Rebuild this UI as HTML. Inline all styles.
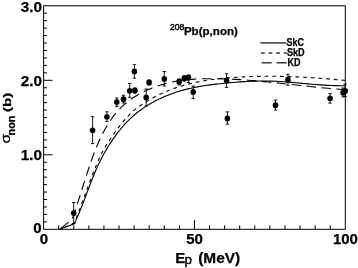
<!DOCTYPE html>
<html><head><meta charset="utf-8"><title>208Pb(p,non)</title>
<style>
html,body{margin:0;padding:0;background:#fff;}
svg{display:block;filter:blur(0.3px);}
text.tk{stroke:#000;stroke-width:0.25px;}
text{font-family:"Liberation Sans",sans-serif;font-weight:bold;fill:#000;}
</style></head><body>
<svg width="358" height="268" viewBox="0 0 358 268">
<rect x="0" y="0" width="358" height="268" fill="#fff"/>

<rect x="43.6" y="5.8" width="301.7" height="223.5" fill="none" stroke="#000" stroke-width="1"/>
<path d="M43.6,221.85h3.4 M43.6,214.40h3.4 M43.6,206.95h3.4 M43.6,199.50h3.4 M43.6,192.05h3.4 M43.6,184.60h3.4 M43.6,177.15h3.4 M43.6,169.70h3.4 M43.6,162.25h3.4 M43.6,154.80h9.0 M43.6,147.35h3.4 M43.6,139.90h3.4 M43.6,132.45h3.4 M43.6,125.00h3.4 M43.6,117.55h3.4 M43.6,110.10h3.4 M43.6,102.65h3.4 M43.6,95.20h3.4 M43.6,87.75h3.4 M43.6,80.30h9.0 M43.6,72.85h3.4 M43.6,65.40h3.4 M43.6,57.95h3.4 M43.6,50.50h3.4 M43.6,43.05h3.4 M43.6,35.60h3.4 M43.6,28.15h3.4 M43.6,20.70h3.4 M43.6,13.25h3.4 M58.69,229.3v-4.0 M73.77,229.3v-4.0 M88.86,229.3v-4.0 M103.94,229.3v-4.0 M119.03,229.3v-4.0 M134.11,229.3v-4.0 M149.19,229.3v-4.0 M164.28,229.3v-4.0 M179.36,229.3v-4.0 M194.45,229.3v-9.2 M209.53,229.3v-4.0 M224.62,229.3v-4.0 M239.70,229.3v-4.0 M254.79,229.3v-4.0 M269.88,229.3v-4.0 M284.96,229.3v-4.0 M300.05,229.3v-4.0 M315.13,229.3v-4.0 M330.22,229.3v-4.0" stroke="#000" stroke-width="1" fill="none"/>
<path d="M59.6,229.3L74.3,223.80 75.8,220.64 77.3,217.29 78.8,213.77 80.3,210.11 81.8,206.33 83.3,202.47 84.8,198.54 86.3,194.58 87.8,190.61 89.3,186.66 90.8,182.75 92.3,178.92 93.8,175.19 95.3,171.58 96.8,168.12 98.3,164.82 99.8,161.67 101.3,158.66 102.8,155.79 104.3,153.05 105.8,150.42 107.3,147.90 108.8,145.48 110.3,143.15 111.8,140.91 113.3,138.74 114.8,136.63 116.3,134.60 117.8,132.63 119.3,130.73 120.8,128.89 122.3,127.11 123.8,125.40 125.3,123.74 126.8,122.15 128.3,120.61 129.8,119.13 131.3,117.70 132.8,116.33 134.3,115.01 135.8,113.74 137.3,112.52 138.8,111.35 140.0,110.44 144.0,107.61 148.0,105.06 152.0,102.73 156.0,100.59 160.0,98.63 164.0,96.82 168.0,95.17 172.0,93.66 176.0,92.28 180.0,91.03 184.0,89.90 188.0,88.88 192.0,87.96 196.0,87.14 200.0,86.40 204.0,85.74 208.0,85.14 212.0,84.61 216.0,84.12 220.0,83.68 224.0,83.28 228.0,82.90 232.0,82.54 236.0,82.22 240.0,81.92 244.0,81.65 248.0,81.43 252.0,81.25 256.0,81.12 260.0,81.04 264.0,81.01 268.0,81.05 272.0,81.15 276.0,81.31 280.0,81.52 284.0,81.78 288.0,82.08 292.0,82.41 296.0,82.76 300.0,83.13 304.0,83.50 308.0,83.86 312.0,84.22 316.0,84.56 320.0,84.87 324.0,85.14 328.0,85.37 332.0,85.55 336.0,85.67 340.0,85.72 344.0,85.70 345.0,85.68" fill="none" stroke="#000" stroke-width="1.1"/>
<path d="M59.6,229.3L74.0,223.29 75.5,219.75 77.0,216.08 78.5,212.28 80.0,208.38 81.5,204.41 83.0,200.37 84.5,196.30 86.0,192.21 87.5,188.12 89.0,184.05 90.5,180.03 92.0,176.07 93.5,172.19 95.0,168.41 96.5,164.76 98.0,161.24 99.5,157.88 101.0,154.70 102.5,151.71 104.0,148.92 105.5,146.35 107.0,143.95 108.5,141.67 110.0,139.46 111.5,137.27 113.0,135.12 114.5,133.00 116.0,130.91 117.5,128.87 119.0,126.87 120.5,124.92 122.0,123.04 123.5,121.21 125.0,119.45 126.5,117.75 128.0,116.14 129.5,114.60 131.0,113.14 132.5,111.76 134.0,110.44 135.5,109.19 137.0,107.99 138.5,106.85 140.0,105.76 144.0,103.07 148.0,100.62 152.0,98.35 156.0,96.23 160.0,94.26 164.0,92.43 168.0,90.75 172.0,89.19 176.0,87.76 180.0,86.45 184.0,85.25 188.0,84.17 192.0,83.18 196.0,82.29 200.0,81.49 204.0,80.77 208.0,80.12 212.0,79.55 216.0,79.05 220.0,78.60 224.0,78.21 228.0,77.86 232.0,77.56 236.0,77.29 240.0,77.05 244.0,76.85 248.0,76.68 252.0,76.54 256.0,76.43 260.0,76.35 264.0,76.30 268.0,76.28 272.0,76.29 276.0,76.32 280.0,76.39 284.0,76.47 288.0,76.58 292.0,76.72 296.0,76.88 300.0,77.06 304.0,77.26 308.0,77.49 312.0,77.73 316.0,77.99 320.0,78.27 324.0,78.58 328.0,78.89 332.0,79.23 336.0,79.58 340.0,79.94 344.0,80.32 345.0,80.41" fill="none" stroke="#000" stroke-width="1.1" stroke-dasharray="3.7 4" stroke-dashoffset="2.3"/>
<path d="M59.6,229.3L72.0,219.52 73.5,215.34 75.0,211.00 76.5,206.52 78.0,201.93 79.5,197.25 81.0,192.52 82.5,187.76 84.0,183.00 85.5,178.27 87.0,173.60 88.5,169.02 90.0,164.54 91.5,160.21 93.0,156.06 94.5,152.08 96.0,148.28 97.5,144.67 99.0,141.23 100.5,137.97 102.0,134.88 103.5,131.95 105.0,129.18 106.5,126.56 108.0,124.09 109.5,121.74 111.0,119.52 112.5,117.42 114.0,115.44 115.5,113.56 117.0,111.79 118.5,110.11 120.0,108.52 121.5,107.02 123.0,105.61 124.5,104.27 126.0,103.00 127.5,101.79 129.0,100.65 130.5,99.56 132.0,98.52 133.5,97.53 135.0,96.57 136.5,95.66 138.0,94.77 139.5,93.93 140.0,93.65 144.0,91.57 148.0,89.70 152.0,88.02 156.0,86.52 160.0,85.18 164.0,84.00 168.0,82.96 172.0,82.07 176.0,81.30 180.0,80.65 184.0,80.11 188.0,79.67 192.0,79.33 196.0,79.07 200.0,78.88 204.0,78.76 208.0,78.70 212.0,78.69 216.0,78.71 220.0,78.78 224.0,78.89 228.0,79.04 232.0,79.21 236.0,79.42 240.0,79.66 244.0,79.93 248.0,80.23 252.0,80.55 256.0,80.88 260.0,81.24 264.0,81.62 268.0,82.01 272.0,82.42 276.0,82.83 280.0,83.26 284.0,83.69 288.0,84.13 292.0,84.57 296.0,85.01 300.0,85.45 304.0,85.89 308.0,86.32 312.0,86.74 316.0,87.16 320.0,87.56 324.0,87.95 328.0,88.32 332.0,88.67 336.0,89.01 340.0,89.32 344.0,89.61 345.0,89.67" fill="none" stroke="#000" stroke-width="1.1" stroke-dasharray="9.5 5.5" stroke-dashoffset="13"/>
<path d="M73.7,202.5V223.5M72.0,202.5h3.4M72.0,223.5h3.4 M92.6,116.7V143.6M90.9,116.7h3.4M90.9,143.6h3.4 M106.9,111.8V121.4M105.2,111.8h3.4M105.2,121.4h3.4 M116.8,98.0V106.4M115.1,98.0h3.4M115.1,106.4h3.4 M123.5,95.3V103.0M121.8,95.3h3.4M121.8,103.0h3.4 M129.7,83.5V97.3M128.0,83.5h3.4M128.0,97.3h3.4 M134.4,64.7V78.2M132.7,64.7h3.4M132.7,78.2h3.4 M146.2,89.0V106.0M144.5,89.0h3.4M144.5,106.0h3.4 M164.3,71.5V86.0M162.6,71.5h3.4M162.6,86.0h3.4 M179.2,80.0V84.9M177.5,80.0h3.4M177.5,84.9h3.4 M188.4,77.0V82.5M186.7,77.0h3.4M186.7,82.5h3.4 M193.2,86.0V98.6M191.5,86.0h3.4M191.5,98.6h3.4 M226.6,73.8V87.4M224.9,73.8h3.4M224.9,87.4h3.4 M227.4,111.9V124.2M225.7,111.9h3.4M225.7,124.2h3.4 M275.5,100.0V110.1M273.8,100.0h3.4M273.8,110.1h3.4 M287.9,74.3V85.2M286.2,74.3h3.4M286.2,85.2h3.4 M330.1,93.6V103.2M328.4,93.6h3.4M328.4,103.2h3.4 M343.1,88.0V96.9M341.4,88.0h3.4M341.4,96.9h3.4 M345.2,84.2V96.5M343.5,84.2h3.4M343.5,96.5h3.4" stroke="#000" stroke-width="0.9" fill="none"/>
<ellipse cx="73.7" cy="213.1" rx="2.8" ry="2.9" fill="#000"/>
<ellipse cx="92.6" cy="130.3" rx="2.8" ry="2.9" fill="#000"/>
<ellipse cx="106.9" cy="116.8" rx="2.8" ry="2.9" fill="#000"/>
<ellipse cx="116.8" cy="102.1" rx="2.8" ry="2.9" fill="#000"/>
<ellipse cx="123.5" cy="99.2" rx="2.8" ry="2.9" fill="#000"/>
<ellipse cx="129.7" cy="90.8" rx="2.8" ry="2.9" fill="#000"/>
<ellipse cx="134.9" cy="90.6" rx="2.8" ry="3.3" fill="#000"/>
<ellipse cx="134.4" cy="71.4" rx="2.8" ry="2.9" fill="#000"/>
<ellipse cx="146.2" cy="97.5" rx="2.8" ry="2.9" fill="#000"/>
<ellipse cx="149.1" cy="82.5" rx="2.8" ry="3.3" fill="#000"/>
<ellipse cx="164.3" cy="78.9" rx="2.8" ry="2.9" fill="#000"/>
<ellipse cx="179.2" cy="81.6" rx="2.8" ry="3.3" fill="#000"/>
<ellipse cx="184.3" cy="78.4" rx="2.8" ry="3.3" fill="#000"/>
<ellipse cx="188.4" cy="77.5" rx="2.8" ry="3.3" fill="#000"/>
<ellipse cx="193.2" cy="92.0" rx="2.8" ry="2.9" fill="#000"/>
<ellipse cx="226.6" cy="80.5" rx="2.8" ry="2.9" fill="#000"/>
<ellipse cx="227.4" cy="118.4" rx="2.8" ry="2.9" fill="#000"/>
<ellipse cx="275.5" cy="105.2" rx="2.8" ry="2.9" fill="#000"/>
<ellipse cx="287.9" cy="79.7" rx="2.8" ry="2.9" fill="#000"/>
<ellipse cx="330.1" cy="98.3" rx="2.8" ry="2.9" fill="#000"/>
<ellipse cx="343.1" cy="92.7" rx="2.8" ry="2.9" fill="#000"/>
<ellipse cx="345.2" cy="90.9" rx="2.8" ry="2.9" fill="#000"/>
<path d="M260.3,42.9H286.6" stroke="#3a3a3a" stroke-width="1.5" fill="none"/>
<path d="M261,52.9H287.4" stroke="#3a3a3a" stroke-width="1.5" stroke-dasharray="3.8 3.8" fill="none"/>
<path d="M261.6,62.8h10.1M276.7,62.8h10.1" stroke="#3a3a3a" stroke-width="1.5" fill="none"/>
<text class="tk" x="286.6" y="46.0" font-size="10.5" textLength="17.4" lengthAdjust="spacingAndGlyphs">SkC</text>
<text class="tk" x="286.9" y="56.4" font-size="10.5" textLength="17.8" lengthAdjust="spacingAndGlyphs">SkD</text>
<text class="tk" x="287.6" y="66" font-size="10.5" textLength="13" lengthAdjust="spacingAndGlyphs">KD</text>
<text x="170.0" y="29.8" font-size="8.6" textLength="14.2" lengthAdjust="spacingAndGlyphs" style="font-weight:normal;stroke:#000;stroke-width:0.45px">208</text>
<text class="tk" x="183.9" y="35.1" font-size="11.6" textLength="54" lengthAdjust="spacingAndGlyphs">Pb(p,non)</text>
<text class="tk" x="41.9" y="11.7" font-size="15.3" text-anchor="end">3.0</text>
<text class="tk" x="41.9" y="85.8" font-size="15.3" text-anchor="end">2.0</text>
<text class="tk" x="41.9" y="159.5" font-size="15.3" text-anchor="end">1.0</text>
<text class="tk" x="41.5" y="232.7" font-size="15" text-anchor="end">0</text>
<text class="tk" x="43.9" y="243.8" font-size="15" text-anchor="middle">0</text>
<text class="tk" x="194.6" y="243.8" font-size="15" text-anchor="middle">50</text>
<text class="tk" x="345.4" y="243.8" font-size="15" text-anchor="middle">100</text>
<text class="tk" x="175.2" y="262.8" font-size="15">E</text>
<text x="184.6" y="264.4" font-size="13.4" style="font-weight:normal;stroke:#000;stroke-width:0.45px">p</text>
<text class="tk" x="198.2" y="262.8" font-size="15" textLength="42" lengthAdjust="spacingAndGlyphs">(MeV)</text>
<g transform="translate(10.2,143.4) rotate(-90)">
<text x="-0.2" y="-0.4" font-size="13.5" textLength="9.7" lengthAdjust="spacingAndGlyphs" style="font-weight:normal;stroke:#000;stroke-width:0.3px">σ</text>
<text class="tk" x="8.0" y="4.6" font-size="10.6" textLength="19.8" lengthAdjust="spacingAndGlyphs">non</text>
<text class="tk" x="31.4" y="0.4" font-size="11.8" textLength="19.2" lengthAdjust="spacingAndGlyphs">(b)</text>
</g>
</svg></body></html>
